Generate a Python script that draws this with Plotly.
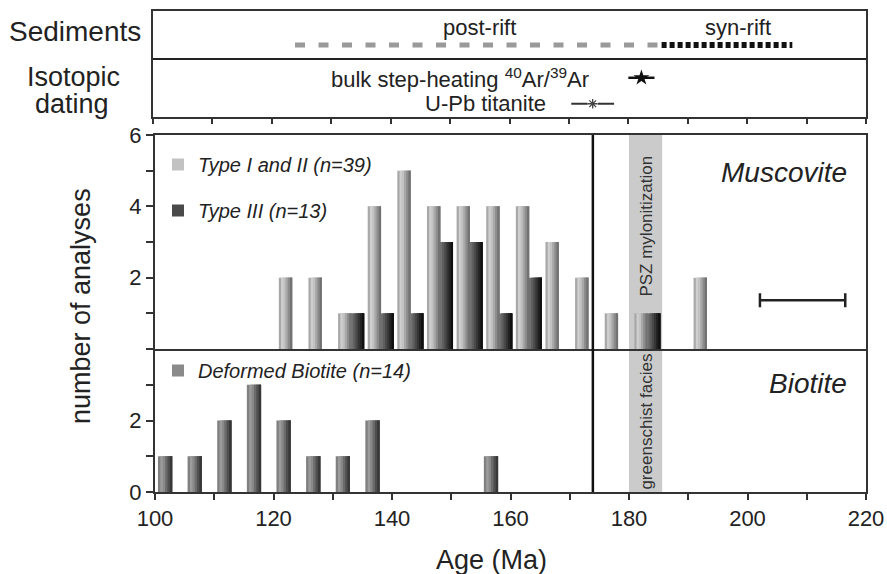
import plotly.graph_objects as go

# ---------------- data ----------------
musc_bins = [120, 125, 130, 135, 140, 145, 150, 155, 160, 165, 170, 175, 180, 185, 190]
type12_counts = [2, 2, 1, 4, 5, 4, 4, 4, 4, 3, 2, 1, 1, 0, 2]
type3_counts = [0, 0, 1, 1, 1, 3, 3, 1, 2, 0, 0, 0, 1, 0, 0]

bio_bins = [100, 105, 110, 115, 120, 125, 130, 135, 140, 145, 150, 155]
biotite_counts = [1, 1, 2, 3, 2, 1, 1, 2, 0, 0, 0, 1]

post_rift_span = [123.9, 185.0]
syn_rift_span = [185.6, 207.6]
ar_age, ar_err = 182.2, 2.2
upb_age, upb_err = 174.0, 3.6
rift_line_age = 173.9
psz_band = [180.0, 185.6]
scale_bar_center, scale_bar_half, scale_bar_level = 209.3, 7.2, 1.37

x_tick_vals = [100, 120, 140, 160, 180, 200, 220]
x_tick_text = ["100", "120", "140", "160", "180", "200", "220"]
x_minor_vals = [110, 130, 150, 170, 190, 210]
x_all_ticks = [100, 110, 120, 130, 140, 150, 160, 170, 180, 190, 200, 210, 220]
musc_tick_vals = [2, 4, 6]
musc_tick_text = ["2", "4", "6"]
musc_minor_vals = [0, 1, 3, 5]
bio_tick_vals = [0, 2]
bio_tick_text = ["0", "2"]
bio_minor_vals = [1, 3, 4]

# ---------------- helpers ----------------
W, H = 887, 574
FONT = "Liberation Sans, Arial, sans-serif"
INK = "#222222"


def px(x):
    return x / W


def py(y):
    return 1 - y / H


fig = go.Figure()

SHADES_12 = ["#a8a8a8", "#cfcfcf", "#c2c2c2", "#a8a8a8", "#8c8c8c", "#727272"]
SHADES_3 = ["#707070", "#5e5e5e", "#4a4a4a", "#363636", "#222222", "#101010"]
SHADES_BIO = ["#808080", "#9c9c9c", "#8a8a8a", "#6c6c6c", "#505050", "#383838"]


def shaded_bars(x, y, off, width, shades, xa, ya, name, legend, group):
    n = len(shades)
    for i, c in enumerate(shades):
        fig.add_trace(go.Bar(
            x=x, y=y, offset=off + i * width / n, width=width * (n - i) / n,
            marker=dict(color=c, line=dict(width=0)),
            xaxis=xa, yaxis=ya, name=name, legend=legend, legendgroup=group,
            showlegend=(i == 2), hoverinfo="skip"))


shaded_bars(musc_bins, type12_counts, 0.9, 2.25, SHADES_12, "x2", "y2",
            "<i>Type I and II (n=39)</i>", "legend", "a")
shaded_bars(musc_bins, type3_counts, 3.1, 2.2, SHADES_3, "x2", "y2",
            "<i>Type III (n=13)</i>", "legend", "b")
shaded_bars(bio_bins, biotite_counts, 0.5, 2.4, SHADES_BIO, "x", "y",
            "<i>Deformed Biotite (n=14)</i>", "legend2", "c")

# scale bar in muscovite panel
fig.add_trace(go.Scatter(
    x=[scale_bar_center], y=[scale_bar_level], mode="markers",
    marker=dict(size=1, opacity=0), xaxis="x2", yaxis="y2", showlegend=False,
    error_x=dict(type="data", array=[scale_bar_half], width=7, thickness=2.5, color=INK)))

# ---------------- top panel ----------------
ROW_SED, ROW_AR, ROW_UPB, ROW_DIV, ROW_LBL = 0.679, 0.37, 0.125, 0.547, 0.84
fig.add_trace(go.Scatter(
    x=post_rift_span, y=[ROW_SED, ROW_SED], mode="lines", xaxis="x3", yaxis="y3",
    line=dict(color="#9a9a9a", width=5, dash="10px,13.5px"), showlegend=False))
fig.add_trace(go.Scatter(
    x=syn_rift_span, y=[ROW_SED, ROW_SED], mode="lines", xaxis="x3", yaxis="y3",
    line=dict(color="#111111", width=6, dash="5px,3px"), showlegend=False))
fig.add_trace(go.Scatter(
    x=[ar_age], y=[ROW_AR], mode="markers", xaxis="x3", yaxis="y3",
    marker=dict(symbol="star", size=12, color="#111111"), showlegend=False,
    error_x=dict(type="data", array=[ar_err], width=0, thickness=2.5, color="#111111")))
fig.add_trace(go.Scatter(
    x=[upb_age], y=[ROW_UPB], mode="markers", xaxis="x3", yaxis="y3",
    marker=dict(symbol="square", size=10, color="white", line=dict(width=0)), showlegend=False,
    error_x=dict(type="data", array=[upb_err], width=0, thickness=2.2, color="#333333")))
fig.add_trace(go.Scatter(
    x=[upb_age], y=[ROW_UPB], mode="markers", xaxis="x3", yaxis="y3",
    marker=dict(symbol="asterisk-open", size=8, color="#444444",
                line=dict(width=1.3, color="#444444")),
    showlegend=False))

# ---------------- axes ----------------
XDOM = [px(155), px(866)]
LINE = "#333333"
axis_common = dict(showline=True, linecolor=LINE, linewidth=2,
                   showgrid=False, zeroline=False, tickcolor=LINE, automargin=False,
                   tickfont=dict(family=FONT, size=22, color=INK))


def minor(vals, length):
    return dict(tickvals=vals, ticks="outside", ticklen=length, tickwidth=1.5,
                tickcolor=LINE, showgrid=False)


fig.update_layout(
    template="none",
    width=W, height=H, autosize=False,
    margin=dict(l=0, r=0, t=0, b=0, pad=0, autoexpand=False),
    paper_bgcolor="white", plot_bgcolor="white", barmode="overlay",
    font=dict(family=FONT, color=INK),
    xaxis=dict(domain=XDOM, range=[100, 220], anchor="y", ticks="outside", ticklen=6,
               tickwidth=1.5, tickvals=x_tick_vals, ticktext=x_tick_text,
               minor=minor(x_minor_vals, 6), mirror=False, **axis_common),
    yaxis=dict(domain=[py(492), py(349)], range=[0, 4], anchor="x", ticks="outside",
               ticklen=7, tickwidth=1.5, tickvals=bio_tick_vals, ticktext=bio_tick_text,
               minor=minor(bio_minor_vals, 7), mirror=True, **axis_common),
    xaxis2=dict(domain=XDOM, range=[100, 220], anchor="y2", matches="x",
                showticklabels=False, ticks="", mirror=True, **axis_common),
    yaxis2=dict(domain=[py(349), py(135)], range=[0, 6], anchor="x2", ticks="outside",
                ticklen=7, tickwidth=1.5, tickvals=musc_tick_vals, ticktext=musc_tick_text,
                minor=minor(musc_minor_vals, 7), mirror=True, **axis_common),
    xaxis3=dict(domain=[px(153), px(866)], range=[100, 220], anchor="y3", ticks="outside",
                ticklen=5, tickwidth=1.5, tickvals=x_all_ticks, showticklabels=False,
                mirror=True, **axis_common),
    yaxis3=dict(domain=[py(117), py(11)], range=[0, 1], anchor="x3", ticks="",
                showticklabels=False, mirror=True, **axis_common),
    legend=dict(x=px(158), y=py(145), xanchor="left", yanchor="top",
                bgcolor="rgba(0,0,0,0)", font=dict(family=FONT, size=20, color=INK),
                tracegroupgap=17, traceorder="grouped", itemwidth=30),
    legend2=dict(x=px(158), y=py(351), xanchor="left", yanchor="top",
                 bgcolor="rgba(0,0,0,0)", font=dict(family=FONT, size=20, color=INK),
                 itemwidth=30),
)

shapes = [
    dict(type="rect", xref="x", yref="paper", x0=psz_band[0], x1=psz_band[1],
         y0=py(492), y1=py(135), fillcolor="#cbcbcb", line=dict(width=0), layer="below"),
    dict(type="line", xref="x", yref="paper", x0=rift_line_age, x1=rift_line_age,
         y0=py(492), y1=py(135), line=dict(color="#111111", width=2.5), layer="above"),
    dict(type="line", xref="x3 domain", yref="y3", x0=0, x1=1, y0=ROW_DIV, y1=ROW_DIV,
         line=dict(color="#222222", width=2)),
]
fig.update_layout(shapes=shapes)


def ann(text, x, y, size, xref="paper", yref="paper", xanchor="center", angle=0,
        italic=False, color=INK):
    fig.add_annotation(text=f"<i>{text}</i>" if italic else text, x=x, y=y, xref=xref,
                       yref=yref, xanchor=xanchor, yanchor="middle", showarrow=False,
                       textangle=angle, font=dict(family=FONT, size=size, color=color))


ann("Sediments", px(143), py(32), 28, xanchor="right")
ann("Isotopic", px(73), py(77), 27)
ann("dating", px(72), py(104), 27)
ann("post-rift", 154.9, ROW_LBL, 22, xref="x3", yref="y3")
ann("syn-rift", 198.4, ROW_LBL, 22, xref="x3", yref="y3")
ann("bulk step-heating <sup>40</sup>Ar/<sup>39</sup>Ar", 151.6, ROW_AR, 22, xref="x3", yref="y3")
ann("U-Pb titanite", 155.9, ROW_UPB, 22, xref="x3", yref="y3")
ann("Muscovite", px(849), py(172), 28, xanchor="right", italic=True)
ann("Biotite", px(849), py(383), 28, xanchor="right", italic=True)
ann("PSZ mylonitization", (psz_band[0] + psz_band[1]) / 2, py(226), 17, xref="x",
    angle=-90, color="#333333")
ann("greenschist facies", (psz_band[0] + psz_band[1]) / 2, py(422), 17, xref="x",
    angle=-90, color="#333333")
ann("number of analyses", px(81), py(306), 27, angle=-90)
ann("Age (Ma)", px(491), py(560), 27)

fig.write_html(
    "out.html",
    config={"displayModeBar": False},
    post_script="document.body.style.margin='0';document.body.style.overflow='hidden';",
)
